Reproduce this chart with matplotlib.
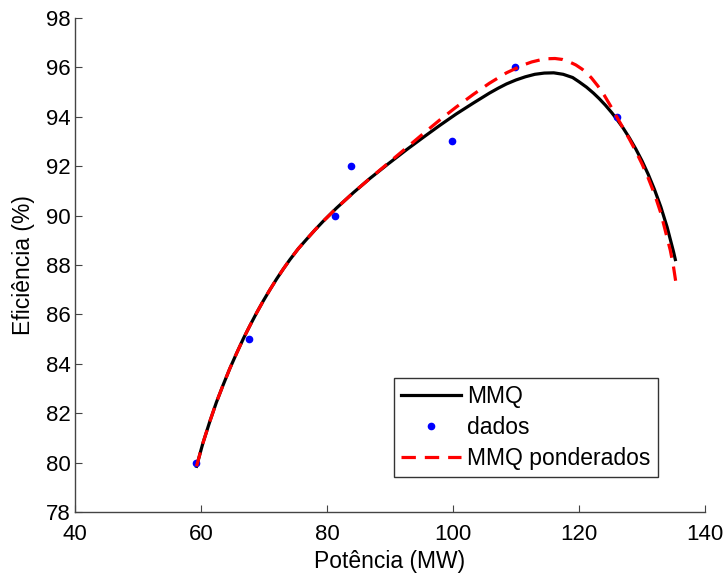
import matplotlib
matplotlib.use("Agg")
import matplotlib.pyplot as plt

# measured data points
dados_x = [59.2, 67.6, 81.2, 83.8, 99.8, 109.9, 126.1]
dados_y = [80.0, 85.0, 90.0, 92.0, 93.0, 96.0, 94.0]

# least squares fit curve
mmq_x = [59.3, 60.3, 61.4, 62.45, 63.5, 64.6, 65.7, 66.75, 67.8, 68.85, 69.9,
         70.95, 72.0, 73.05, 74.1, 75.45, 76.8, 78.1, 79.4, 81.5, 84.2, 86.8,
         89.7, 92.65, 95.3, 97.9, 100.5, 103.2, 105.8, 107.2, 108.5, 110.0,
         111.5, 113.0, 114.5, 116.0, 117.5, 119.0, 120.0, 121.2, 122.3, 123.2,
         124.2, 125.2, 126.1, 127.0, 128.0, 129.0, 130.0, 131.0, 132.0, 133.0,
         134.0, 135.0, 135.3]
mmq_y = [79.85, 80.78, 81.66, 82.44, 83.13, 83.82, 84.45, 85.03, 85.56, 86.07, 86.55,
         87.0, 87.43, 87.83, 88.21, 88.66, 89.05, 89.42, 89.77, 90.3, 90.93, 91.5,
         92.09, 92.67, 93.17, 93.65, 94.11, 94.55, 94.96, 95.16, 95.33, 95.49,
         95.62, 95.72, 95.77, 95.78, 95.72, 95.59, 95.42, 95.2, 94.96, 94.74,
         94.47, 94.17, 93.87, 93.55, 93.15, 92.71, 92.22, 91.67, 91.05, 90.35,
         89.53, 88.55, 88.22]

# weighted least squares fit curve
pond_x = [59.3, 60.3, 61.4, 62.45, 63.5, 64.6, 65.7, 66.75, 67.8, 68.85, 69.9,
          70.95, 72.0, 73.05, 74.1, 75.45, 76.8, 78.1, 79.4, 81.5, 84.2, 86.8,
          89.7, 92.65, 95.3, 97.9, 100.5, 103.2, 105.8, 108.5, 110.0, 111.2,
          112.5, 113.8, 115.0, 116.2, 117.4, 118.5, 119.5, 120.5, 121.3, 122.0,
          123.0, 124.0, 125.0, 126.0, 127.0, 128.0, 129.0, 130.0, 131.0, 132.0,
          133.0, 134.0, 134.5, 135.0, 135.5]
pond_y = [79.85, 80.78, 81.66, 82.44, 83.13, 83.82, 84.45, 85.03, 85.56, 86.07, 86.55,
          87.0, 87.43, 87.83, 88.21, 88.66, 89.05, 89.42, 89.77, 90.3, 90.93, 91.5,
          92.12, 92.75, 93.32, 93.87, 94.39, 94.9, 95.36, 95.78, 95.96, 96.1,
          96.22, 96.3, 96.35, 96.36, 96.32, 96.22, 96.1, 95.93, 95.76, 95.57,
          95.25, 94.88, 94.45, 94.0, 93.55, 93.1, 92.62, 92.1, 91.52, 90.87,
          90.1, 89.1, 88.6, 87.95, 87.1]

plt.rcParams["font.family"] = ["Liberation Sans", "DejaVu Sans"]

fig = plt.figure(figsize=(7.23, 5.73), dpi=100)
ax = fig.add_axes([0.1037, 0.1065, 0.8713, 0.8621])

ax.plot(mmq_x, mmq_y, color="black", linewidth=2.3, label="MMQ")
ax.plot(dados_x, dados_y, linestyle="none", marker="o", markersize=4.5,
        color="#0000ff", label="dados")
ax.plot(pond_x, pond_y, color="#ff0000", linewidth=2.3, linestyle=(0, (4.5, 2.8)),
        label="MMQ ponderados")

ax.set_xlim(40, 140)
ax.set_ylim(78, 98)
ax.set_xticks(range(40, 141, 20))
ax.set_yticks(range(78, 99, 2))
ax.tick_params(direction="in", length=5, labelsize=16, color="#444444")
ax.tick_params(axis="x", pad=9)
ax.tick_params(axis="y", pad=3)
for side in ("top", "right"):
    ax.spines[side].set_visible(False)
for side in ("left", "bottom"):
    ax.spines[side].set_color("#444444")
    ax.spines[side].set_linewidth(1.0)

ax.set_xlabel("Potência (MW)", fontsize=16.5, labelpad=3)
ax.set_ylabel("Eficiência (%)", fontsize=16.5, labelpad=8)

leg = ax.legend(loc="lower right", bbox_to_anchor=(0.925, 0.071), fontsize=16.5,
                frameon=True, fancybox=False, handlelength=2.6, borderpad=0.3,
                labelspacing=0.35, handletextpad=0.3, borderaxespad=0)
leg.get_frame().set_edgecolor("black")
leg.get_frame().set_linewidth(1.0)

fig.savefig("out.png", dpi=100)
